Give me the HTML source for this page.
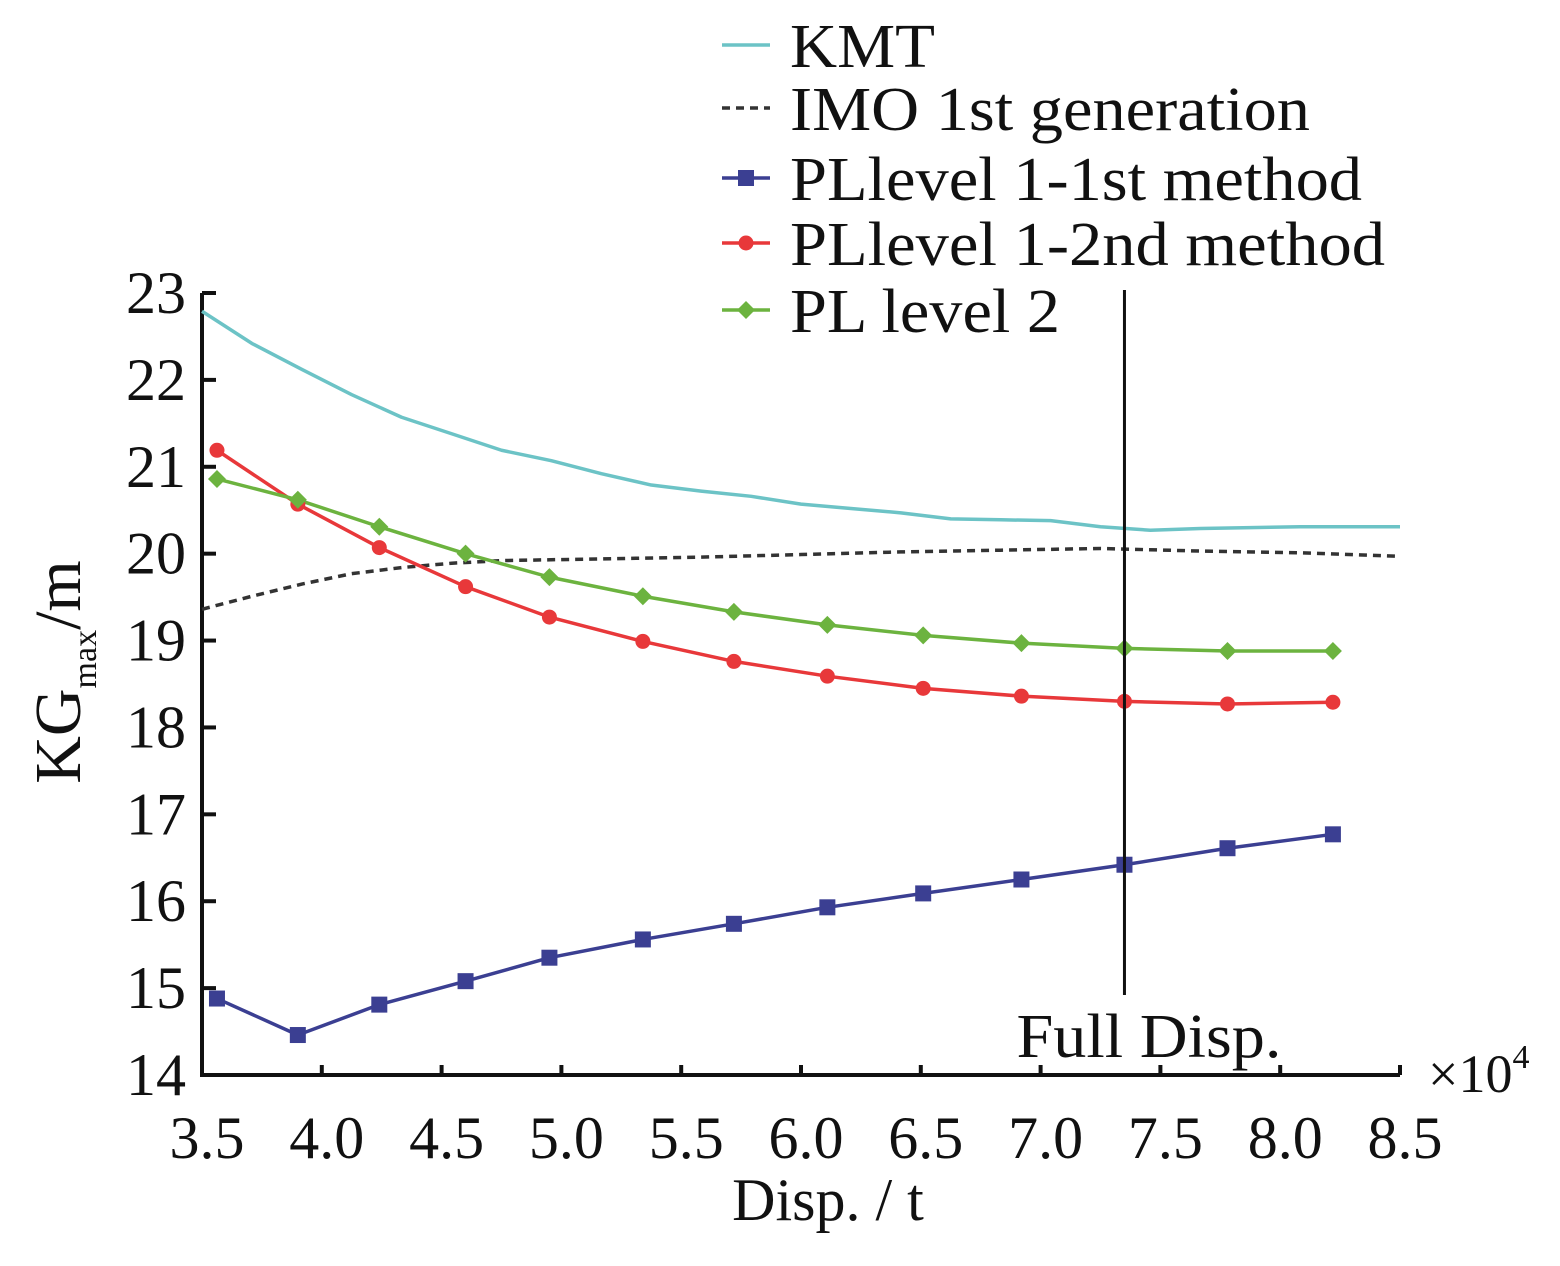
<!DOCTYPE html>
<html><head><meta charset="utf-8"><style>
body{margin:0;background:#fff}
svg text{font-family:"Liberation Serif",serif;fill:#111}
</style></head><body>
<svg id="chart" width="1560" height="1261" viewBox="0 0 1560 1261" xmlns="http://www.w3.org/2000/svg">
<g id="axes"></g>
<g id="series"></g>
<g id="legend"></g>
</svg>
<script>
const xTicks=[3.5,4.0,4.5,5.0,5.5,6.0,6.5,7.0,7.5,8.0,8.5];
const yTicks=[14,15,16,17,18,19,20,21,22,23];
const markX=[3.5625,3.9,4.24,4.6,4.95,5.34,5.72,6.11,6.51,6.92,7.35,7.78,8.22];
const level1First=[14.88,14.46,14.81,15.08,15.35,15.56,15.74,15.93,16.09,16.25,16.42,16.61,16.77];
const level1Second=[21.19,20.57,20.07,19.62,19.27,18.99,18.76,18.59,18.45,18.36,18.30,18.27,18.29];
const level2=[20.86,20.62,20.31,20.0,19.73,19.51,19.33,19.18,19.06,18.97,18.91,18.88,18.88];
const kmtX=[3.5,3.708,3.917,4.125,4.333,4.542,4.75,4.958,5.167,5.375,5.583,5.792,6.0,6.208,6.417,6.625,6.833,7.042,7.25,7.458,7.667,7.875,8.083,8.5];
const kmtY=[22.79,22.42,22.12,21.83,21.57,21.38,21.19,21.07,20.92,20.79,20.72,20.66,20.57,20.52,20.47,20.40,20.39,20.38,20.31,20.27,20.29,20.30,20.31,20.31];
const imoX=[3.5,3.708,3.917,4.125,4.333,4.542,4.75,5.167,5.583,6.0,6.417,6.833,7.25,7.667,8.083,8.5];
const imoY=[19.36,19.51,19.65,19.77,19.84,19.89,19.92,19.94,19.96,19.99,20.02,20.04,20.06,20.03,20.01,19.97];
const fullDisp=7.35;

const NS="http://www.w3.org/2000/svg";
const X0=202,X1=1400,Y0=1075,Y1=293;
const sx=v=>X0+(v-3.5)/(8.5-3.5)*(X1-X0);
const sy=v=>Y0-(v-14)/(23-14)*(Y0-Y1);
function mk(tag,attrs,parent,text){const e=document.createElementNS(NS,tag);for(const k in attrs)e.setAttribute(k,attrs[k]);if(text!==undefined)e.textContent=text;parent.appendChild(e);return e;}
const axes=document.getElementById('axes'),series=document.getElementById('series'),legend=document.getElementById('legend');

let e=mk('path',{d:`M${X0},${Y1}V${Y0}H${X1}`,stroke:'#111','stroke-width':4,fill:'none'},axes);


xTicks.forEach(t=>{
  const x=sx(t);
  let tk=mk('line',{x1:x,x2:x,y1:Y0,y2:Y0-10,stroke:'#111','stroke-width':4},axes);
  
  
  let lb=mk('text',{x:x+5,y:1158,'font-size':60,'text-anchor':'middle'},axes,t.toFixed(1));
  
  
});
yTicks.forEach(t=>{
  const y=sy(t);
  let tk=mk('line',{x1:X0,x2:X0+14,y1:y,y2:y,stroke:'#111','stroke-width':4},axes);
  
  
  let lb=mk('text',{x:186,y:y+20,'font-size':60,'text-anchor':'end'},axes,String(t));
  
  
});
e=mk('text',{x:1428,y:1092,'font-size':54},axes,'×10');


mk('tspan',{dy:-24,'font-size':34},e,'4');
e=mk('text',{x:828,y:1220,'font-size':60,'text-anchor':'middle'},axes,'Disp. / t');


e=mk('text',{transform:'translate(80,672) rotate(-90)','font-size':66,'text-anchor':'middle'},axes);


mk('tspan',{},e,'KG');mk('tspan',{'font-size':34,dy:16},e,'max');mk('tspan',{dy:-16},e,'/m');

function line(xs,ys,color,name,dash){
  const d=xs.map((x,i)=>(i?'L':'M')+sx(x)+','+sy(ys[i])).join('');
  const p=mk('path',{d,stroke:color,'stroke-width':3.5,fill:'none','stroke-dasharray':dash||'none','stroke-linejoin':'round'},series);
  
  
}
line(kmtX,kmtY,'#6cc3c6','kmt-line');
line(imoX,imoY,'#333','imo-line','8,6');
line(markX,level1First,'#3b3f92','pl-level1-1st-line');
line(markX,level1Second,'#e8383a','pl-level1-2nd-line');
line(markX,level2,'#6cb33f','pl-level2-line');
function marker(x,y,type,color,parent){
  let m;
  if(type==='sq')m=mk('rect',{x:x-8,y:y-8,width:16,height:16,fill:color},parent);
  else if(type==='ci')m=mk('circle',{cx:x,cy:y,r:7.5,fill:color},parent);
  else m=mk('path',{d:`M${x},${y-9}L${x+9},${y}L${x},${y+9}L${x-9},${y}Z`,fill:color},parent);
  return m;
}
markX.forEach((x,i)=>{
  let m=marker(sx(x),sy(level1First[i]),'sq','#3b3f92',series);
  
  
  m=marker(sx(x),sy(level1Second[i]),'ci','#e8383a',series);
  
  
  m=marker(sx(x),sy(level2[i]),'di','#6cb33f',series);
  
  
});
const fx=sx(fullDisp);
e=mk('line',{x1:fx,x2:fx,y1:290,y2:995,stroke:'#111','stroke-width':3},series);


e=mk('text',{x:fx-108,y:1057,'font-size':62,textLength:265,lengthAdjust:'spacingAndGlyphs'},series,'Full Disp.');



const leg=[['KMT','#6cc3c6',null,null,45,145],['IMO 1st generation','#333','8,6',null,108,520],['PLlevel 1-1st method','#3b3f92',null,'sq',178,572],['PLlevel 1-2nd method','#e8383a',null,'ci',243,595],['PL level 2','#6cb33f',null,'di',310,270]];
leg.forEach(([t,c,dash,mt,y,w])=>{
  const g=mk('g',{},legend);
  
  
  mk('line',{x1:722,x2:770,y1:y,y2:y,stroke:c,'stroke-width':3.5,'stroke-dasharray':dash||'none'},g);
  if(mt)marker(746,y,mt,c,g);
  mk('text',{x:790,y:y+22,'font-size':62,textLength:w,lengthAdjust:'spacingAndGlyphs'},g,t);
});
</script>
</body></html>
